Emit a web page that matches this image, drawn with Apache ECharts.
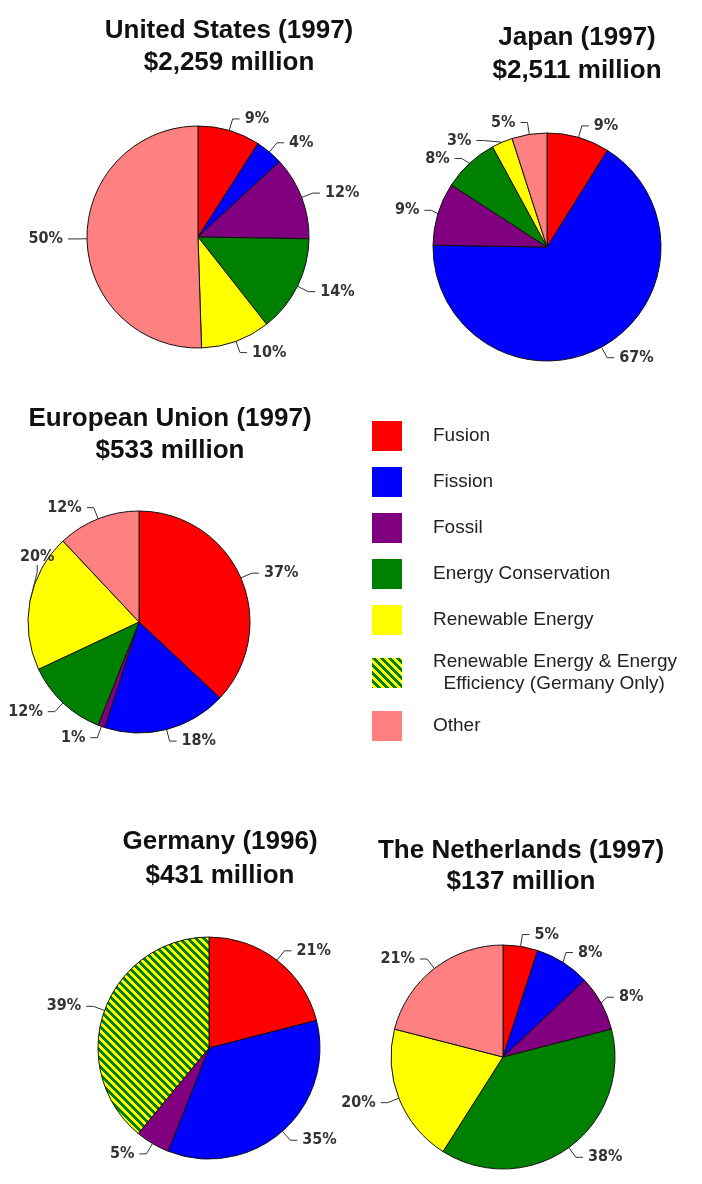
<!DOCTYPE html>
<html>
<head>
<meta charset="utf-8">
<script src="https://cdn.jsdelivr.net/npm/echarts@6/dist/echarts.min.js"></script>
<style>
html,body{margin:0;padding:0;background:#fff;}
#chart{width:702px;height:1184px;}
</style>
</head>
<body>
<div id="chart"></div>
<script>
// ---- data ----
const categories = ['Fusion', 'Fission', 'Fossil', 'Energy Conservation', 'Renewable Energy',
  'Renewable Energy & Energy Efficiency (Germany Only)', 'Other'];
const legendLabels = ['Fusion', 'Fission', 'Fossil', 'Energy Conservation', 'Renewable Energy',
  'Renewable Energy & Energy\n  Efficiency (Germany Only)', 'Other'];
const usTitle = 'United States (1997)\n$2,259 million';
const japanTitle = 'Japan (1997)\n$2,511 million';
const euTitle = 'European Union (1997)\n$533 million';
const germanyTitle = 'Germany (1996)\n$431 million';
const nlTitle = 'The Netherlands (1997)\n$137 million';
// percent shares, in category order (null = not present)
const usValues = [9, 4, 12, 14, 10, null, 50];
const japanValues = [9, 67, 9, 8, 3, null, 5];
const euValues = [37, 18, 1, 12, 20, null, 12];
const germanyValues = [21, 35, 5, null, null, 39, null];
const nlValues = [5, 8, 8, 38, 20, null, 21];

// ---- styles ----
function hatch() {
  const n = 8;
  const c = document.createElement('canvas');
  c.width = n; c.height = n;
  const g = c.getContext('2d');
  for (let x = 0; x < n; x++) {
    for (let y = 0; y < n; y++) {
      g.fillStyle = (((x - y) % n) + n) % n < 4 ? '#008000' : '#ffff00';
      g.fillRect(x, y, 1, 1);
    }
  }
  return { image: c, repeat: 'repeat' };
}
const colors = ['#ff0000', '#0000ff', '#800080', '#008000', '#ffff00', hatch(), '#ff8080'];

function buildData(values) {
  const out = [];
  values.forEach((v, i) => {
    if (v !== null) out.push({ name: categories[i], value: v, itemStyle: { color: colors[i] } });
  });
  return out;
}

const labelFont = { fontFamily: "'Liberation Sans Narrow','Arial Narrow','DejaVu Sans Condensed',sans-serif", fontSize: 16, fontWeight: 'bold', color: '#333' };
function pie(values, center, r, extra) {
  return Object.assign({
    type: 'pie', center: center, radius: r, startAngle: 90, clockwise: true,
    data: buildData(values),
    itemStyle: { borderColor: '#111', borderWidth: 1 },
    label: Object.assign({ show: true, position: 'outside', formatter: '{c}%', width: 40 }, labelFont),
    labelLine: { show: true, length: 12, length2: 7, lineStyle: { color: '#333', width: 1 } },
    emphasis: { disabled: true },
    animation: false
  }, extra || {});
}
const titleFont = { fontFamily: "'Liberation Sans',Arial,sans-serif", fontSize: 26, fontWeight: 'bold', color: '#111' };
function title(text, x, y, lh) {
  return { text: text, left: x, top: y, textAlign: 'center', padding: 0,
    textStyle: Object.assign({ lineHeight: lh }, titleFont) };
}

const chart = echarts.init(document.getElementById('chart'), null, { renderer: 'canvas' });
chart.setOption({
  animation: false,
  title: [
    title(usTitle, 229, 15, 32),
    title(japanTitle, 577, 21, 33),
    title(euTitle, 170, 403, 32),
    title(germanyTitle, 220, 825, 34),
    title(nlTitle, 521, 835, 31)
  ],
  legend: {
    orient: 'vertical', left: 372, top: 421, padding: 0,
    itemWidth: 30, itemHeight: 30, itemGap: 16, icon: 'rect',
    itemStyle: { borderWidth: 0 },
    data: categories,
    formatter: function (name) { return legendLabels[categories.indexOf(name)]; },
    selectedMode: false,
    textStyle: { fontFamily: "'Liberation Sans',Arial,sans-serif", fontSize: 19, color: '#222', lineHeight: 22, padding: [0, 0, 0, 26] }
  },
  series: [
    pie(usValues, [198, 237], 111),
    pie(japanValues, [547, 247], 114),
    pie(euValues, [139, 622], 111, {
      labelLayout: function (p) {
        // a label pushed past the left edge is lifted back inside, above its slice
        if (p.labelRect.x < 0) {
          return { x: 20, y: p.labelRect.y + p.labelRect.height / 2 - 42, align: 'left' };
        }
      }
    }),
    pie(germanyValues, [209, 1048], 111),
    pie(nlValues, [503, 1057], 112)
  ]
});
</script>
</body>
</html>
